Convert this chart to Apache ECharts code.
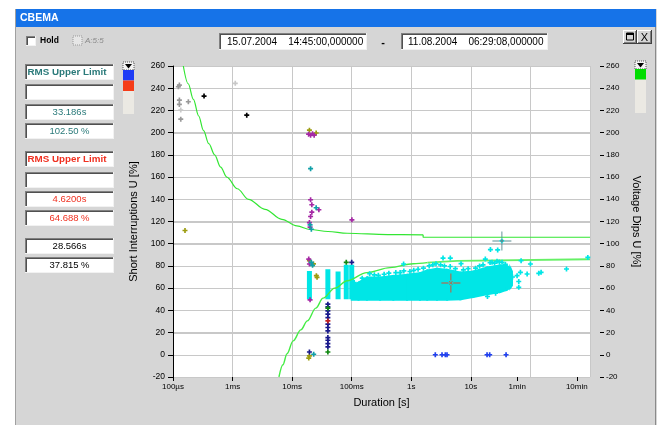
<!DOCTYPE html>
<html><head><meta charset="utf-8">
<script src="https://cdn.jsdelivr.net/npm/echarts@6/dist/echarts.min.js"></script>
<style>html,body{margin:0;padding:0;background:#fff}#c{width:664px;height:425px}</style>
</head><body><div id="c"></div>
<script>
// ---------- data ----------
const xTickValues = [1e-4, 1e-3, 1e-2, 0.1, 1, 10, 60, 600];
const xTickLabels = ['100µs', '1ms', '10ms', '100ms', '1s', '10s', '1min', '10min'];
const yTickValues = [-20, 0, 20, 40, 60, 80, 100, 120, 140, 160, 180, 200, 220, 240, 260];

const upperCurveDur = [1.49e-4, 1.8e-4, 2.2e-4, 2.7e-4, 3.24e-4, 4e-4, 5e-4, 6.3e-4, 8e-4, 1.2e-3, 1.85e-3, 3.5e-3, 6.7e-3, 1.2e-2, 2e-2, 4e-2, 8.4e-2, 0.4, 1.58];
const upperCurveVal = [260, 244, 230, 215, 202, 190, 180, 169, 160, 149.5, 140, 131, 122, 116, 112.8, 111, 109.4, 108.2, 108];
const upperStepDur = [1.58, 1.58, 1000];
const upperStepVal = [108, 105.8, 105.8];

const lowerCurveDur = [6e-3, 7e-3, 8.2e-3, 1.04e-2, 1.4e-2, 1.8e-2, 2.5e-2, 3.3e-2, 5.2e-2, 8.4e-2, 0.18, 0.44, 1.08, 1.86];
const lowerCurveVal = [-20, -9, 1, 12.5, 22.4, 30.5, 42, 51, 60, 66.7, 74, 78.5, 82, 83];
const lowerStepDur = [1.86, 1.86, 5.9, 5.9, 1000];
const lowerStepVal = [83, 84, 84.5, 86, 86];

const blobDur    = [0.1, 0.13, 0.18, 0.3, 0.5, 0.85, 1.4, 1.85, 2.7, 4.0, 6.7, 11, 18.7, 31, 40, 46, 49];
const blobTop    = [62, 65, 69.5, 69.5, 71, 72, 73.5, 76, 77.5, 76.5, 74, 75, 78.5, 80.5, 80, 78, 75];
const blobBottom = [49.6, 49.6, 49.6, 49.6, 49.6, 49.6, 49.6, 49.6, 49.6, 49.6, 50, 52, 54.5, 56.5, 58.5, 60.5, 62.5];

const columnDur    = [1.95e-2, 3.98e-2, 5.9e-2, 8.1e-2, 0.1];
const columnTop    = [75.5, 77, 75, 81, 81];
const columnBottom = [50, 50, 50, 50, 50];

const cyanPts = [[0.11,65],[0.15,69],[0.2,73],[0.24,72],[0.28,71.5],[0.35,72.5],[0.42,73.5],[0.55,74],[0.65,74],
  [0.743,81.7],[0.75,75.5],[0.95,75],[1.1,76],[1.3,77],[1.6,78],[2.0,80],[2.3,81],[2.6,82],[3.1,81],[3.41,87.1],
  [4.52,87.1],[3.6,80],[4.5,79.5],[5.5,77.5],[6.84,82],[7.5,76.5],[9,77.5],[12,78],[14,80],[16,81],[17.5,86.2],
  [21,83],[22.7,83.2],[25,82.5],[27.5,84.1],[30,83.5],[33.4,83.2],[38,81.5],[21.3,94.7],[28.2,94.4],[33.186,102.5],
  [69.7,84.7],[100,81.7],[59.7,71.2],[63.7,66],[63.7,60.7],[67.9,74.2],[88,72.7],[138,73.3],[151,74.2],[403,77.2],
  [919,87.7],[19,52.5],[26,55.5],[46,65],[50,70]];
const greyPts = [[1.23e-4,241.3],[1.28e-4,242.8],[1.28e-4,229.3],[1.28e-4,225.4],[1.35e-4,212.1],[1.81e-4,227.8]];
const lightGreyPts = [[1.35e-4,220.3],[1.11e-3,244.4]];
const blackPts = [[3.32e-4,232.9],[1.73e-3,215.7]];
const olivePts = [[1.59e-4,111.9],[1.95e-2,202.2],[2.53e-2,199.7],[1.95e-2,84.7],[2.28e-2,81.8],[2.55e-2,71.2],[2.62e-2,69.7],[1.95e-2,-1],[1.9e-2,-3]];
const magentaPts = [[1.89e-2,198.6],[2.04e-2,197.7],[2.34e-2,197.7],[2.2e-2,199],[2.04e-2,139.6],[2.14e-2,135.1],[2.14e-2,128.4],
  [2.04e-2,124.5],[2.81e-2,130.6],[0.1007,121.5],[1.95e-2,119],[2e-2,115],[1.9e-2,86.2],[1.95e-2,81.7],[2.0e-2,49.5]];
const tealPts = [[2.04e-2,167.6],[2.53e-2,132.4],[2.0e-2,117],[2.1e-2,113],[2.1e-2,83.2],[2.2e-2,80.5],[2.3e-2,0.5]];
const navyPts = [[3.98e-2,45.6],[3.98e-2,43.2],[3.98e-2,39.6],[3.98e-2,36.6],[3.98e-2,33.5],[3.98e-2,27.6],[3.98e-2,24.6],
  [3.98e-2,21.5],[3.98e-2,15.5],[3.98e-2,13.1],[3.98e-2,10.1],[3.98e-2,7.1],[0.1,83.2],[1.95e-2,2.5]];
const greenPts = [[3.98e-2,42.0],[3.98e-2,2.5],[0.081,83.2]];
const redPts = [[3.98e-2,30.5]];
const bluePts = [[2.53,0],[3.28,0],[3.73,0],[3.98,0],[18.7,0],[20.7,0],[39,0]];
const cursorTeal = [[33.186, 102.50]];
const cursorRed = [[4.62, 64.688]];

const readoutTitles = ['RMS Upper Limit', 'RMS Upper Limit'];
const readoutTimes = ['33.186s', '4.6200s', '28.566s'];
const readoutValues = ['102.50 %', '64.688 %', '37.815 %'];
const dateFrom = '15.07.2004    14:45:00,000000';
const dateTo = '11.08.2004    06:29:08,000000';

// ---------- chart ----------
const FONT = 'Liberation Sans, Arial, sans-serif';
const PLOT = {left: 173, top: 66, width: 417, height: 311};
const X_MIN = 1e-4, X_MAX = 1000;
const chart = echarts.init(document.getElementById('c'), null, {renderer: 'canvas'});

function pair(xs, ys) { return xs.map((x, i) => [x, ys[i]]); }
function xLabel(v) {
  for (let i = 0; i < xTickValues.length; i++) {
    if (Math.abs(Math.log10(v) - Math.log10(xTickValues[i])) < 1e-6) return xTickLabels[i];
  }
  return '';
}
const plus = 'path://M2,0h2v2h2v2h-2v2h-2v-2h-2v-2h2z';
const crossLines = 'M0,9.5h7.5v1h-7.5zM12.5,9.5h7.5v1h-7.5zM9.5,0h1v7.5h-1zM9.5,12.5h1v7.5h-1z';
const tealCursor = 'path://' + crossLines + 'M8.5,8.5h3v3h-3z';
const redCursor = 'path://' + crossLines + 'M8,8.7L8.7,8L12,11.3L11.3,12ZM12,8.7L11.3,8L8,11.3L8.7,12Z';

function scatter(data, color, z) {
  return {type: 'scatter', data, symbol: plus, symbolSize: 5, itemStyle: {color, opacity: 1}, z: z || 7, silent: true};
}
function limitLine(data, color, width, smooth) {
  return {type: 'line', z: 5, silent: true, symbol: 'none', smooth: smooth ? 0.35 : false,
    smoothMonotone: 'x', data, lineStyle: {color, width}};
}
function gridLine() { return {color: '#c8c8c8', width: 1, type: 'solid'}; }

// chrome helpers
const G = [];
function rect(x, y, w, h, fill, extra) { G.push(Object.assign({type: 'rect', shape: {x, y, width: w, height: h}, style: {fill}}, extra || {})); }
function text(x, y, t, font, fill, align) {
  G.push({type: 'text', x, y, style: {text: t, font, fill, align: align || 'left', verticalAlign: 'middle'}});
}
function sunken(x, y, w, h) {
  rect(x, y, w, h, '#fff');
  rect(x, y, w, 1, '#808080'); rect(x, y, 1, h, '#808080');
  rect(x + 1, y + 1, w - 2, 1, '#505050'); rect(x + 1, y + 1, 1, h - 2, '#505050');
  rect(x, y + h - 1, w, 1, '#f2f2f2'); rect(x + w - 1, y, 1, h, '#f2f2f2');
}
function raised(x, y, w, h) {
  rect(x, y, w, h, '#d6d6d6');
  rect(x, y, w, 1, '#fff'); rect(x, y, 1, h, '#fff');
  rect(x, y + h - 1, w, 1, '#404040'); rect(x + w - 1, y, 1, h, '#404040');
  rect(x + 1, y + h - 2, w - 2, 1, '#808080'); rect(x + w - 2, y + 1, 1, h - 2, '#808080');
}

// window frame
rect(0, 0, 664, 9, '#fff');
rect(0, 0, 15, 425, '#fff');
rect(657, 0, 7, 425, '#fff');
rect(15, 9, 1, 416, '#a0a0a0');
rect(655, 27, 1, 398, '#8a8a8a');
rect(16, 9, 640, 18, '#1673e8');
text(20, 18.5, 'CBEMA', 'bold 10.5px ' + FONT, '#fff');
raised(623, 30, 14, 14);
rect(626.5, 33, 7, 7, 'none', {style: {fill: 'none', stroke: '#000', lineWidth: 1}});
rect(626.5, 33, 7, 2, '#000');
raised(637, 30, 15, 14);
text(644.5, 37.5, 'X', '11px ' + FONT, '#000', 'center');
sunken(26, 36, 10, 10);
text(40, 41, 'Hold', 'bold 8.5px ' + FONT, '#000');
rect(73, 36, 9, 9, '#e6e6e6', {style: {fill: '#e6e6e6', stroke: '#999', lineWidth: 1, lineDash: [1, 1]}});
text(85, 41, 'A:5:5', 'italic 8px ' + FONT, '#8a8a8a');
sunken(219, 33, 148, 17);
text(227, 42, dateFrom, '10px ' + FONT, '#000');
text(383, 42.5, '-', 'bold 11px ' + FONT, '#000', 'center');
sunken(401, 33, 147, 17);
text(408, 42, dateTo, '10px ' + FONT, '#000');
const TEAL = '#2a7a7a', RED = '#f03020';
const boxes = [
  [64, readoutTitles[0], 'bold 9.8px ', TEAL], [84, '', '', TEAL], [104, readoutTimes[0], '9.5px ', TEAL], [123, readoutValues[0], '9.5px ', TEAL],
  [151, readoutTitles[1], 'bold 9.8px ', RED], [172, '', '', RED], [191, readoutTimes[1], '9.5px ', RED], [210, readoutValues[1], '9.5px ', RED],
  [238, readoutTimes[2], '9.5px ', '#000'], [257, readoutValues[2], '9.5px ', '#000']
];
boxes.forEach(b => {
  sunken(25, b[0], 89, 16);
  if (b[1]) {
    if (b[2].indexOf('bold') >= 0) text(27.5, b[0] + 8.5, b[1], b[2] + FONT, b[3]);
    else text(69.5, b[0] + 8.5, b[1], b[2] + FONT, b[3], 'center');
  }
});
function strip(x, y, colors) {
  rect(x, y, 11, 52, '#ebe9e3');
  rect(x, y, 11, 8, '#f4f4f4', {style: {fill: '#f4f4f4', stroke: '#555', lineWidth: 1, lineDash: [1, 1]}});
  G.push({type: 'polygon', shape: {points: [[x + 2, y + 2], [x + 9, y + 2], [x + 5.5, y + 6.5]]}, style: {fill: '#000'}});
  colors.forEach((c, i) => rect(x, y + 8 + i * 10.5, 11, 10.5, c));
}
strip(123, 62, ['#1e3cf5', '#f53c18']);
strip(635, 61, ['#00dd00']);

const option = {
  animation: false,
  backgroundColor: '#d6d6d6',
  textStyle: {fontFamily: FONT},
  grid: Object.assign({show: true, backgroundColor: '#ffffff', borderWidth: 0, z: -5, containLabel: false}, PLOT),
  xAxis: [
    {
      type: 'log', logBase: 10, min: X_MIN, max: X_MAX, position: 'bottom', z: 2,
      axisLine: {show: false, onZero: false},
      axisTick: {show: true, length: 4, lineStyle: {color: '#000'}, customValues: xTickValues},
      axisLabel: {customValues: xTickValues, formatter: xLabel, fontSize: 8, color: '#000', margin: 6, fontFamily: FONT},
      splitLine: {show: false},
      name: 'Duration [s]', nameLocation: 'middle', nameGap: 20,
      nameTextStyle: {fontSize: 11, color: '#000', fontFamily: FONT}
    },
    {
      type: 'log', logBase: 10, min: X_MIN, max: X_MAX, position: 'top', splitNumber: 7, z: 2,
      axisLine: {show: false, onZero: false}, axisTick: {show: false}, axisLabel: {show: false},
      splitLine: {show: true, lineStyle: gridLine()}
    }
  ],
  yAxis: [
    {
      type: 'value', min: -20, max: 260, interval: 20, position: 'left', z: 2,
      axisLine: {show: true, onZero: false, lineStyle: {color: '#000', width: 1}},
      axisTick: {show: true, length: 5, lineStyle: {color: '#000'}},
      axisLabel: {fontSize: 8.5, color: '#000', margin: 8, fontFamily: FONT},
      splitLine: {show: true, lineStyle: gridLine()},
      name: 'Short Interruptions U [%]', nameLocation: 'middle', nameGap: 29,
      nameTextStyle: {fontSize: 11, color: '#000', fontFamily: FONT}
    },
    {
      type: 'value', min: -20, max: 260, interval: 20, position: 'right', offset: 10, z: 2,
      axisLine: {show: false, onZero: false},
      axisTick: {show: true, length: 4, lineStyle: {color: '#000'}},
      axisLabel: {fontSize: 8, color: '#000', margin: 6, fontFamily: FONT},
      splitLine: {show: false},
      name: 'Voltage Dips U [%]', nameLocation: 'middle', nameRotate: -90, nameGap: 20,
      nameTextStyle: {fontSize: 11, color: '#000', fontFamily: FONT}
    }
  ],
  graphic: {elements: G},
  series: [
    {
      // horizontal grid lines at each y tick, placed through the axis scales
      type: 'custom', z: 1, silent: true, clip: true,
      data: yTickValues.map(v => [X_MIN, v, X_MAX]),
      encode: {x: [0, 2], y: 1},
      renderItem: function (params, api) {
        const a = api.coord([api.value(0), api.value(1)]);
        const b = api.coord([api.value(2), api.value(1)]);
        const y = Math.round(a[1]) + 0.5;
        return {type: 'line', shape: {x1: a[0], y1: y, x2: b[0], y2: y}, style: {stroke: '#c8c8c8', lineWidth: 1}};
      }
    },
    {
      type: 'custom', z: 4, silent: true, clip: true,
      data: blobDur.map((d, i) => [d, blobTop[i], blobBottom[i]]),
      encode: {x: 0, y: [1, 2]},
      renderItem: function (params, api) {
        const i = params.dataIndex;
        if (i >= blobDur.length - 1) return null;
        const pts = [
          api.coord([api.value(0), api.value(1)]),
          api.coord([blobDur[i + 1], blobTop[i + 1]]),
          api.coord([blobDur[i + 1], blobBottom[i + 1]]),
          api.coord([api.value(0), api.value(2)])
        ];
        return {type: 'polygon', shape: {points: pts}, style: {fill: '#00e6e6', stroke: '#00e6e6', lineWidth: 2}};
      }
    },
    ...columnDur.map((d, i) => ({
      type: 'line', z: 4, silent: true, symbol: 'none',
      data: [[d, columnBottom[i]], [d, columnTop[i]]],
      lineStyle: {color: '#00e6e6', width: 5}
    })),
    limitLine(pair(upperCurveDur, upperCurveVal), '#33e633', 1.2, true),
    limitLine(pair(upperStepDur, upperStepVal), '#33e633', 1.2, false),
    limitLine(pair(lowerCurveDur, lowerCurveVal), '#44ec44', 1.4, true),
    limitLine(pair(lowerStepDur, lowerStepVal), '#66f066', 1.8, false),
    scatter(cyanPts, '#00e6e6', 6),
    scatter(greyPts, '#999999'),
    scatter(lightGreyPts, '#c8c8c8'),
    scatter(blackPts, '#000000'),
    scatter(olivePts, '#9c9c10'),
    scatter(magentaPts, '#a528a5'),
    scatter(tealPts, '#10a0a8'),
    scatter(navyPts, '#1a1a8c'),
    scatter(greenPts, '#118811'),
    scatter(redPts, '#c02020'),
    scatter(bluePts, '#2040f0'),
    {type: 'scatter', z: 8, silent: true, data: cursorTeal, symbol: tealCursor, symbolSize: 19, itemStyle: {color: '#5b8f94', opacity: 1}},
    {type: 'scatter', z: 8, silent: true, data: cursorRed, symbol: redCursor, symbolSize: 19, itemStyle: {color: '#d5502e', opacity: 1}}
  ]
};
chart.setOption(option);
</script>
</body></html>
